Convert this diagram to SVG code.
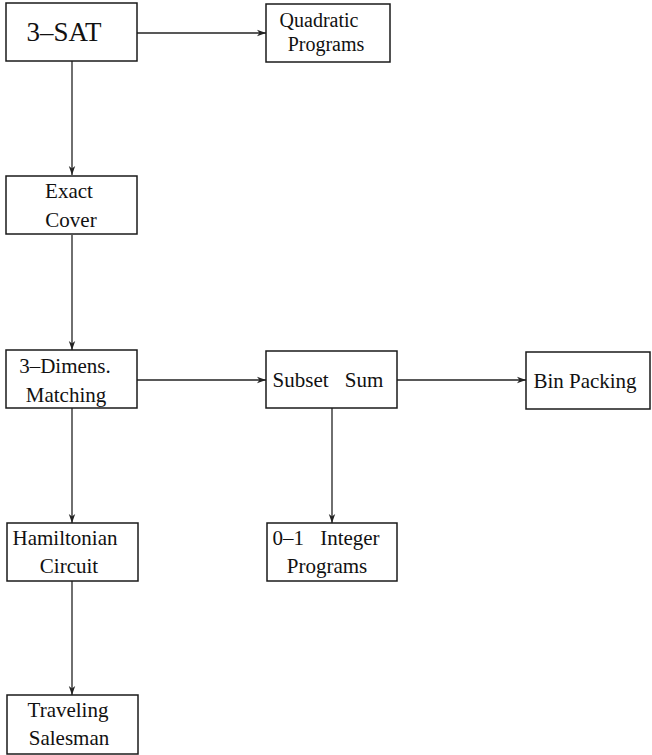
<svg xmlns="http://www.w3.org/2000/svg" width="652" height="755" viewBox="0 0 652 755">
  <style>
    .box { fill: #ffffff; stroke: #1a1a1a; stroke-width: 1.5; }
    .lbl { font-family: "Liberation Serif", "Times New Roman", serif; font-size: 21px; fill: #111111; text-anchor: middle; }
    .big { font-size: 27px; }
    .tight { font-size: 20px; }
    .wide { word-spacing: 11px; }
    .edge { fill: none; stroke: #222222; stroke-width: 1.3; marker-end: url(#arrow); }
  </style>
  <defs>
    <marker id="arrow" markerWidth="10" markerHeight="8" refX="9" refY="4" orient="auto" markerUnits="userSpaceOnUse">
      <path d="M0,0.8 L9,4 L0,7.2 L2.5,4 Z" fill="#222222"/>
    </marker>
  </defs>
  <rect width="652" height="755" fill="#ffffff"/>

  <g id="connectors">
    <line class="edge" x1="137" y1="33" x2="266" y2="33"/>
    <line class="edge" x1="72" y1="61" x2="72" y2="175"/>
    <line class="edge" x1="72" y1="235" x2="72" y2="350"/>
    <line class="edge" x1="137" y1="380" x2="266" y2="380"/>
    <line class="edge" x1="397" y1="380" x2="526" y2="380"/>
    <line class="edge" x1="72" y1="408" x2="72" y2="523"/>
    <line class="edge" x1="332" y1="408" x2="332" y2="523"/>
    <line class="edge" x1="72" y1="581" x2="72" y2="695"/>
  </g>

  <g id="sat3">
    <rect class="box" x="6" y="3" width="131" height="58"/>
    <text class="lbl big" x="64" y="41">3–SAT</text>
  </g>

  <g id="quadratic">
    <rect class="box" x="266" y="4" width="124" height="58"/>
    <text class="lbl tight" x="319" y="27">Quadratic</text>
    <text class="lbl tight" x="326" y="51">Programs</text>
  </g>

  <g id="exact-cover">
    <rect class="box" x="6" y="176" width="131" height="58"/>
    <text class="lbl" x="69" y="198">Exact</text>
    <text class="lbl" x="71" y="227">Cover</text>
  </g>

  <g id="dim3-matching">
    <rect class="box" x="6" y="350" width="131" height="58"/>
    <text class="lbl" x="65" y="373">3–Dimens.</text>
    <text class="lbl" x="66" y="402">Matching</text>
  </g>

  <g id="subset-sum">
    <rect class="box" x="266" y="351" width="131" height="57"/>
    <text class="lbl wide" x="328" y="387">Subset Sum</text>
  </g>

  <g id="bin-packing">
    <rect class="box" x="526" y="352" width="124" height="57"/>
    <text class="lbl" x="585" y="388">Bin Packing</text>
  </g>

  <g id="hamiltonian">
    <rect class="box" x="7" y="523" width="131" height="58"/>
    <text class="lbl" x="65" y="545">Hamiltonian</text>
    <text class="lbl" x="69" y="573">Circuit</text>
  </g>

  <g id="integer-programs">
    <rect class="box" x="267" y="523" width="130" height="58"/>
    <text class="lbl wide" x="326" y="545">0–1 Integer</text>
    <text class="lbl" x="327" y="573">Programs</text>
  </g>

  <g id="traveling-salesman">
    <rect class="box" x="7" y="695" width="131" height="59"/>
    <text class="lbl" x="68" y="717">Traveling</text>
    <text class="lbl" x="69" y="745">Salesman</text>
  </g>
</svg>
